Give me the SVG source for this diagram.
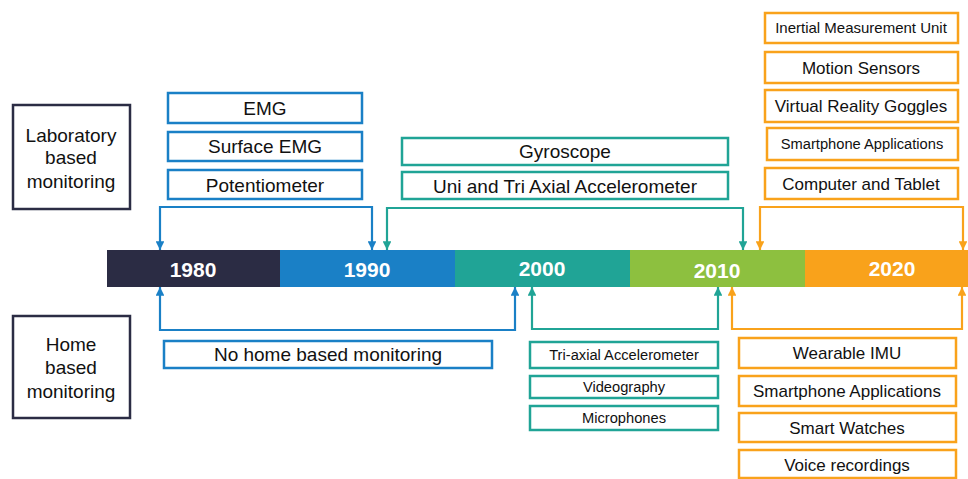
<svg xmlns="http://www.w3.org/2000/svg" width="968" height="479" viewBox="0 0 968 479">
<style>
text{font-family:"Liberation Sans",Arial,sans-serif;text-anchor:middle;fill:#111}
.yr{fill:#fff;font-weight:bold;font-size:21px}
.box{fill:#fff;stroke-width:2.5}
.nv{stroke:#2b2c44}.bl{stroke:#1a80c6}.tl{stroke:#20a496}.or{stroke:#f9a21b}
.cn{fill:none;stroke-width:2.2}
.t19{font-size:19px}.t17{font-size:17px}.t15{font-size:15px}.t147{font-size:14.7px}
</style>
<defs>
<marker id="aB" viewBox="0 0 10 10" refX="10" refY="5" markerWidth="4" markerHeight="4" orient="auto" markerUnits="strokeWidth"><path d="M0,0L10,5L0,10z" fill="#1a80c6"/></marker>
<marker id="aT" viewBox="0 0 10 10" refX="10" refY="5" markerWidth="4" markerHeight="4" orient="auto" markerUnits="strokeWidth"><path d="M0,0L10,5L0,10z" fill="#20a496"/></marker>
<marker id="aO" viewBox="0 0 10 10" refX="10" refY="5" markerWidth="4" markerHeight="4" orient="auto" markerUnits="strokeWidth"><path d="M0,0L10,5L0,10z" fill="#f9a21b"/></marker>
</defs>
<rect width="968" height="479" fill="#fff"/>
<g id="timeline">
<rect x="107" y="250" width="174" height="37" fill="#2b2c44"/>
<rect x="280" y="250" width="176" height="37" fill="#1a80c6"/>
<rect x="455" y="250" width="176" height="37" fill="#20a496"/>
<rect x="630" y="250" width="176" height="37" fill="#8dc03f"/>
<rect x="805" y="250" width="163" height="37" fill="#f9a21b"/>
<text class="yr" x="193" y="277">1980</text>
<text class="yr" x="367" y="277">1990</text>
<text class="yr" x="542" y="276">2000</text>
<text class="yr" x="717" y="278">2010</text>
<text class="yr" x="892" y="276">2020</text>
</g>
<g id="lab-label"><rect class="box nv" x="13" y="105" width="117" height="104"/>
<text class="t19" x="71" y="142">Laboratory</text><text class="t19" x="71" y="164">based</text><text class="t19" x="71" y="188">monitoring</text></g>
<g id="home-label"><rect class="box nv" x="13" y="316" width="117" height="102"/>
<text class="t19" x="71" y="351">Home</text><text class="t19" x="71" y="374">based</text><text class="t19" x="71" y="398">monitoring</text></g>
<g id="emg"><rect class="box bl" x="168" y="93" width="194" height="30"/><text class="t19" x="265" y="115">EMG</text></g>
<g id="surface-emg"><rect class="box bl" x="168" y="132" width="194" height="29"/><text class="t19" x="265" y="153">Surface EMG</text></g>
<g id="potentiometer"><rect class="box bl" x="168" y="170" width="194" height="29"/><text class="t19" x="265" y="192">Potentiometer</text></g>
<g id="gyroscope"><rect class="box tl" x="402" y="138" width="326" height="27"/><text class="t19" x="565" y="158">Gyroscope</text></g>
<g id="uni-tri"><rect class="box tl" x="402" y="172" width="326" height="27"/><text class="t19" x="565" y="193">Uni and Tri Axial Accelerometer</text></g>
<g id="imu"><rect class="box or" x="765" y="13" width="193" height="30"/><text class="t15" x="861" y="33">Inertial Measurement Unit</text></g>
<g id="motion"><rect class="box or" x="765" y="52" width="193" height="31"/><text class="t17" x="861" y="74">Motion Sensors</text></g>
<g id="vr"><rect class="box or" x="765" y="90" width="193" height="32"/><text class="t17" x="861" y="112">Virtual Reality Goggles</text></g>
<g id="smartphone-lab"><rect class="box or" x="767" y="128" width="191" height="32"/><text class="t147" x="862" y="149">Smartphone Applications</text></g>
<g id="computer"><rect class="box or" x="765" y="168" width="193" height="31"/><text class="t17" x="861" y="190">Computer and Tablet</text></g>
<g id="no-home"><rect class="box bl" x="164" y="341" width="328" height="27"/><text class="t19" x="328" y="361">No home based monitoring</text></g>
<g id="tri-axial"><rect class="box tl" x="530" y="342" width="188" height="26"/><text class="t147" x="624" y="360">Tri-axial Accelerometer</text></g>
<g id="videography"><rect class="box tl" x="530" y="376" width="188" height="22"/><text class="t147" x="624" y="392">Videography</text></g>
<g id="microphones"><rect class="box tl" x="530" y="406" width="188" height="24"/><text class="t147" x="624" y="423">Microphones</text></g>
<g id="wearable"><rect class="box or" x="739" y="338" width="217" height="30"/><text class="t17" x="847" y="359">Wearable IMU</text></g>
<g id="smartphone-home"><rect class="box or" x="739" y="376" width="217" height="30"/><text class="t17" x="847" y="397">Smartphone Applications</text></g>
<g id="smartwatch"><rect class="box or" x="739" y="413" width="217" height="29"/><text class="t17" x="847" y="434">Smart Watches</text></g>
<g id="voice"><rect class="box or" x="739" y="450" width="217" height="28"/><text class="t17" x="847" y="471">Voice recordings</text></g>
<g id="connectors">
<path class="cn bl" d="M160,207H372" />
<path class="cn bl" d="M160,206V250" marker-end="url(#aB)"/>
<path class="cn bl" d="M372,206V250" marker-end="url(#aB)"/>
<path class="cn tl" d="M387,208H743"/>
<path class="cn tl" d="M387,207V250" marker-end="url(#aT)"/>
<path class="cn tl" d="M743,207V250" marker-end="url(#aT)"/>
<path class="cn or" d="M760,207H963"/>
<path class="cn or" d="M760,206V250" marker-end="url(#aO)"/>
<path class="cn or" d="M963,206V250" marker-end="url(#aO)"/>
<path class="cn bl" d="M160,330H515"/>
<path class="cn bl" d="M160,331V287" marker-end="url(#aB)"/>
<path class="cn bl" d="M515,331V287" marker-end="url(#aB)"/>
<path class="cn tl" d="M532,329H718"/>
<path class="cn tl" d="M532,330V287" marker-end="url(#aT)"/>
<path class="cn tl" d="M718,330V287" marker-end="url(#aT)"/>
<path class="cn or" d="M732,329H962"/>
<path class="cn or" d="M732,330V287" marker-end="url(#aO)"/>
<path class="cn or" d="M962,330V287" marker-end="url(#aO)"/>
</g>
</svg>
